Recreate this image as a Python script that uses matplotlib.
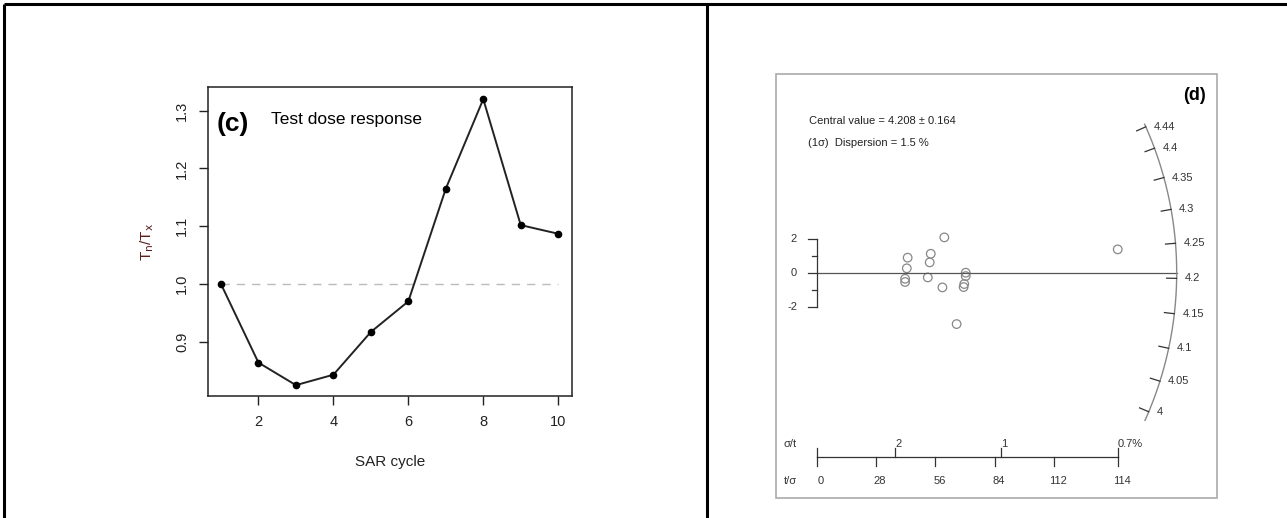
import numpy as np
import matplotlib
matplotlib.use("Agg")
import matplotlib.pyplot as plt

# ---- data: panel (c)
sar_cycle = [1, 2, 3, 4, 5, 6, 7, 8, 9, 10]
tn_tx = [1.000, 0.864, 0.825, 0.843, 0.917, 0.970, 1.165, 1.320, 1.102, 1.087]
c_yticks = [0.9, 1.0, 1.1, 1.2, 1.3]
c_xticks = [2, 4, 6, 8, 10]

# ---- data: panel (d) radial plot
precision = [42.9, 42.5, 41.7, 41.7, 53.8, 53.3, 52.4, 60.2, 59.3, 70.3, 70.3, 69.6, 69.3, 66.0, 142.0]
std_est = [0.89, 0.26, -0.36, -0.55, 1.12, 0.61, -0.28, 2.09, -0.87, 0.00, -0.20, -0.67, -0.85, -3.04, 1.38]
central_value = 4.208
arc_values = [4.44, 4.4, 4.35, 4.3, 4.25, 4.2, 4.15, 4.1, 4.05, 4.0]
arc_labels = ["4.44", "4.4", "4.35", "4.3", "4.25", "4.2", "4.15", "4.1", "4.05", "4"]
tsig_ticks = [0, 28, 56, 84, 112, 142]
tsig_labels = ["0", "28", "56", "84", "112", "114"]
sigt_ticks = [37, 87, 142]
sigt_labels = ["2", "1", "0.7%"]
z_major = [-2, 0, 2]
z_minor = [-1, 1]

W, H = 1287, 518
fig = plt.figure(figsize=(W / 100, H / 100), dpi=100)
plt.rcParams['font.family'] = ['Liberation Sans', 'DejaVu Sans']

# ---------- panel (c)
L, R, T, B = 207.7, 571.7, 87.3, 396.0
ax = fig.add_axes([L / W, (H - B) / H, (R - L) / W, (B - T) / H])
ax.plot([1, 10], [1, 1], ls=(0, (6, 5)), color="#bbbbbb", lw=1)
ax.plot(sar_cycle, tn_tx, color="#222222", lw=1.4, marker="o", ms=4.5, mfc="black", mec="black")
ax.set_xlim(0.646, 10.36)
ax.set_ylim(0.8062, 1.3405)
ax.set_xticks(c_xticks)
ax.set_yticks(c_yticks)
ax.set_yticklabels([f"{v:.1f}" for v in c_yticks], rotation=90, va="center")
ax.tick_params(direction="out", length=6.5, width=1, labelsize=10.5, pad=7, colors="#222222")
for s in ax.spines.values():
    s.set_linewidth(1.1)
    s.set_color("#222222")
ax.set_xlabel("SAR cycle", fontsize=11, labelpad=19, color="#222222")
ax.set_ylabel(r"T$_\mathrm{n}$/T$_\mathrm{x}$", fontsize=11, color="#5a1e1e", labelpad=14)
ax.text(0.024, 0.88, "(c)", transform=ax.transAxes, fontsize=19, fontweight="bold", va="center")
ax.text(0.173, 0.895, "Test dose response", transform=ax.transAxes, fontsize=12.5, va="center")

# ---------- overlay in pixel coordinates for borders and panel (d)
ov = fig.add_axes([0, 0, 1, 1], zorder=-1)
ov.set_xlim(0, W)
ov.set_ylim(H, 0)
ov.axis("off")
ov.plot([3.7, W], [4.3, 4.3], color="black", lw=2.2, solid_capstyle="butt")
ov.plot([3.7, 3.7], [4.3, H], color="black", lw=2.2, solid_capstyle="butt")
ov.plot([707, 707], [4.3, H], color="black", lw=2.2, solid_capstyle="butt")

# radial plot geometry (pixel)
ox, oy = 816.7, 272.7      # origin
sx = 2.12                  # px per precision unit
sz = 16.9                  # px per z unit
r_arc = 360.0
kslope = 8.26
gray = "#888888"

ov.add_patch(plt.Rectangle((775.7, 74.3), 1217 - 775.7, 497.7 - 74.3, fill=False, ec="#aaaaaa", lw=1.2))

# central line
ov.plot([ox, ox + r_arc], [oy, oy], color="#555555", lw=0.9)
# points
px = ox + np.array(precision) * sx
py = oy - np.array(std_est) * sz
ov.scatter(px, py, s=38, facecolors="none", edgecolors=gray, lw=0.9)

# arc
def arc_pt(v, r):
    sl = -kslope * np.log(v / central_value)
    ang = np.arctan(sl)
    return ox + r * np.cos(ang), oy + r * np.sin(ang)

a_top = np.arctan(-kslope * np.log(4.445 / central_value))
a_bot = np.arctan(-kslope * np.log(3.985 / central_value))
aa = np.linspace(a_top, a_bot, 200)
ov.plot(ox + r_arc * np.cos(aa), oy + r_arc * np.sin(aa), color=gray, lw=1)
for v, lab in zip(arc_values, arc_labels):
    x1, y1 = arc_pt(v, r_arc)
    x0, y0 = arc_pt(v, r_arc - 10)
    ov.plot([x0, x1], [y0, y1], color="#333333", lw=0.9)
    ov.text(x1 + 8, y1, lab, fontsize=8, va="center", ha="left", color="#333333")

# z axis
ov.plot([ox, ox], [oy - 2 * sz, oy + 2 * sz], color="#333333", lw=0.9)
for z in z_major:
    ov.plot([ox - 9, ox], [oy - z * sz] * 2, color="#333333", lw=0.9)
    ov.text(797, oy - z * sz, f"{z}", fontsize=8, ha="right", va="center", color="#333333")
for z in z_minor:
    ov.plot([ox - 5, ox], [oy - z * sz] * 2, color="#333333", lw=0.9)

# bottom precision axis
yb = 456.7
ov.plot([ox, ox + tsig_ticks[-1] * sx], [yb, yb], color="#333333", lw=0.9)
for t, lab in zip(tsig_ticks, tsig_labels):
    ov.plot([ox + t * sx] * 2, [yb, yb + 9], color="#333333", lw=0.9)
    ov.text(ox + t * sx + 4, 481, lab, fontsize=8, ha="center", va="center", color="#333333")
ov.plot([ox, ox], [yb, yb - 9], color="#333333", lw=0.9)
for t, lab in zip(sigt_ticks, sigt_labels):
    ov.plot([ox + t * sx] * 2, [yb, yb - 9], color="#333333", lw=0.9)
    ov.text(ox + t * sx, 444, lab, fontsize=8, ha="left", va="center", color="#333333")
ov.text(784, 444, "σ/t", fontsize=8, ha="left", va="center", color="#333333")
ov.text(784, 481, "t/σ", fontsize=8, ha="left", va="center", color="#333333")

ov.text(809, 121, "Central value = 4.208 ± 0.164", fontsize=8, va="center", color="#222222")
ov.text(808, 143, "(1σ)  Dispersion = 1.5 %", fontsize=8, va="center", color="#222222")
ov.text(1206, 95, "(d)", fontsize=13, fontweight="bold", ha="right", va="center")

fig.savefig("out.png", dpi=100)
